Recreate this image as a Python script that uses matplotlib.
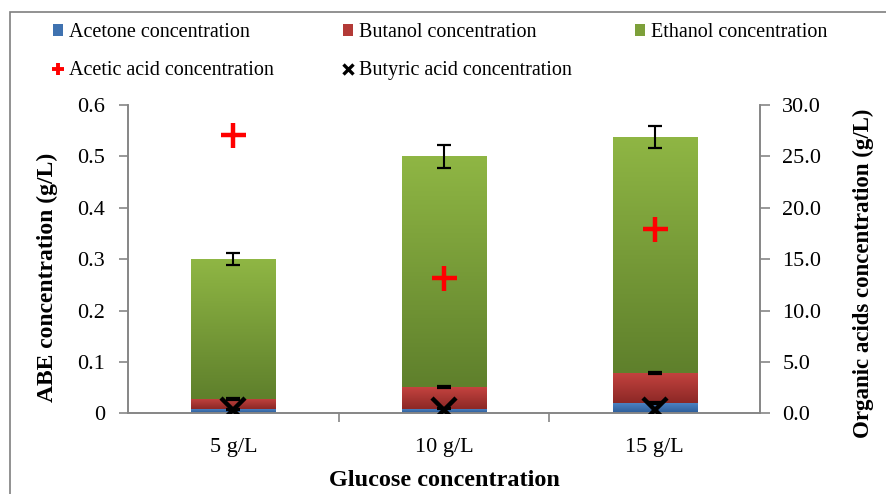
import numpy as np
import matplotlib
matplotlib.use("Agg")
import matplotlib.pyplot as plt
from matplotlib.colors import LinearSegmentedColormap
from matplotlib.patches import Patch, Rectangle
from matplotlib.lines import Line2D

plt.rcParams['font.family'] = ['Liberation Serif', 'DejaVu Serif']

# ---------------- data ----------------
categories = ["5 g/L", "10 g/L", "15 g/L"]
acetone = [0.008, 0.009, 0.020]
butanol = [0.020, 0.042, 0.0585]
ethanol = [0.272, 0.449, 0.4595]
acetone_err = [0.001, 0.001, 0.002]
butanol_err = [0.002, 0.002, 0.002]
total_err = [0.012, 0.023, 0.022]
acetic = [27.1, 13.2, 17.9]
butyric = [0.3, 0.3, 0.3]

left_ticks = [0, 0.1, 0.2, 0.3, 0.4, 0.5, 0.6]
right_ticks = [0, 5, 10, 15, 20, 25, 30]

# ---------------- figure ----------------
fig = plt.figure(figsize=(8.87, 4.94), dpi=100)
ax = fig.add_axes([128/887, 1-413.3/494, (760-128)/887, (413.3-105)/494])
ax2 = ax.twinx()

x = np.arange(len(categories))
w = 0.4
grey = '#868686'

def grad_bars(bars, top_col, bot_col):
    cmap = LinearSegmentedColormap.from_list('g', [bot_col, top_col])
    for b in bars:
        x0, y0 = b.get_x(), b.get_y()
        x1, y1 = x0 + b.get_width(), y0 + b.get_height()
        im = ax.imshow(np.linspace(0, 1, 100).reshape(-1, 1), extent=[x0, x1, y0, y1],
                       origin='lower', aspect='auto', cmap=cmap, zorder=b.get_zorder() + 0.1)
        im.set_clip_path(b)

but_bottom = np.array(acetone)
eth_bottom = np.array(acetone) + np.array(butanol)

b1 = ax.bar(x, acetone, w, color='#3F72B0', zorder=2)
b2 = ax.bar(x, butanol, w, bottom=but_bottom, color='#B33A37', zorder=2)
b3 = ax.bar(x, ethanol, w, bottom=eth_bottom, color='#7DA03A', zorder=2)
grad_bars(b1, '#4F86C6', '#2C5C98')
grad_bars(b2, '#C4433F', '#8C2826')
grad_bars(b3, '#8FB644', '#5F802C')

ekw = dict(fmt='none', ecolor='black', elinewidth=1.5, capsize=5, capthick=1.6, zorder=5)
ax.errorbar(x, np.array(acetone), yerr=acetone_err, **ekw)
ax.errorbar(x, eth_bottom, yerr=butanol_err, **ekw)
ax.errorbar(x, eth_bottom + np.array(ethanol), yerr=total_err, **ekw)

ax.set_xlim(-0.5, 2.5)
ax.set_ylim(0, 0.6)
ax.set_yticks(left_ticks)
ax.set_yticklabels(['0' if t == 0 else f'{t:.1f}' for t in left_ticks])
ax.set_xticks(x)
ax.set_xticklabels(categories)
ax.set_xticks([0.5, 1.5], minor=True)
ax.tick_params(axis='x', which='major', length=0, labelsize=16, pad=18)
ax.tick_params(axis='x', which='minor', length=6.5, color=grey, direction='out', width=1.2)
ax.tick_params(axis='y', length=6.5, color=grey, labelsize=16, direction='out', pad=10, width=1.2)

ax2.plot(x, acetic, linestyle='none', marker='+', color='red', markersize=18, mew=3.2, zorder=6)
ax2.plot(x, butyric, linestyle='none', marker='x', color='black', markersize=17, mew=3.2, zorder=6)
ax2.set_ylim(0, 30)
ax2.set_yticks(right_ticks)
ax2.set_yticklabels([f'{t:.1f}' for t in right_ticks])
ax2.tick_params(axis='y', length=7, color=grey, labelsize=16, direction='out', pad=9, width=1.2)

for a in (ax, ax2):
    a.spines['top'].set_visible(False)
    for s in ('left', 'right', 'bottom'):
        a.spines[s].set_color(grey)
        a.spines[s].set_linewidth(1.2)
    a.set_facecolor('none')

ax.set_xlabel('Glucose concentration', fontsize=17.5, fontweight='bold', labelpad=9)
ax.set_ylabel('ABE concentration (g/L)', fontsize=17, fontweight='bold', labelpad=14)
ax2.set_ylabel('Organic acids concentration (g/L)', fontsize=16.5, fontweight='bold', labelpad=23)
ax.yaxis.label.set_y(0.442)
ax2.yaxis.label.set_y(0.455)

# outer frame
fig.add_artist(Rectangle((10/887, -0.05), 1.1, 1 - 12/494 + 0.05, transform=fig.transFigure,
                         fill=False, edgecolor='#7f7f7f', linewidth=1.2))

# legend, built as three columns
h_ace = Patch(facecolor='#3F72B0')
h_but = Patch(facecolor='#B33A37')
h_eth = Patch(facecolor='#7DA03A')
h_acet = Line2D([], [], linestyle='none', marker='+', color='red', markersize=8, mew=2.8)
h_buty = Line2D([], [], linestyle='none', marker='x', color='black', markersize=7, mew=2.4)
lkw = dict(loc='upper left', frameon=False, fontsize=14.5, handlelength=0.5, handleheight=0.5,
           handletextpad=0.3, labelspacing=0.95, borderpad=0, borderaxespad=0)
fig.legend([h_ace, h_acet], ['Acetone concentration', 'Acetic acid concentration'],
           bbox_to_anchor=(53/887, 1 - 23/494), **lkw)
fig.legend([h_but, h_buty], ['Butanol concentration', 'Butyric acid concentration'],
           bbox_to_anchor=(343/887, 1 - 23/494), **lkw)
fig.legend([h_eth], ['Ethanol concentration'],
           bbox_to_anchor=(635/887, 1 - 23/494), **lkw)

fig.savefig('out.png', dpi=100)
